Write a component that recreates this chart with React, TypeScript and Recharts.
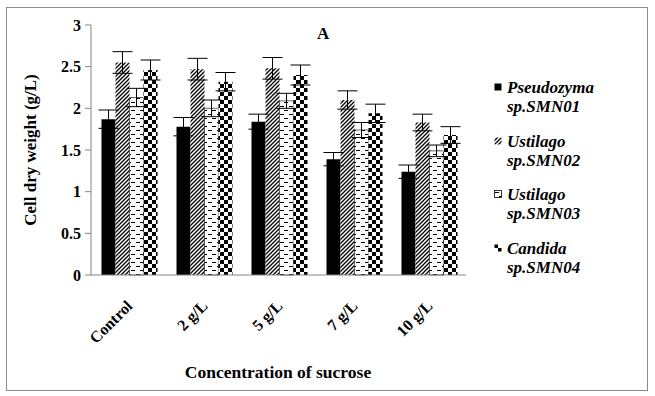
import React from "react";
import { BarChart, Bar, XAxis, YAxis, ErrorBar, Label } from "recharts";

const categories = ["Control", "2 g/L", "5 g/L", "7 g/L", "10 g/L"];
const smn01 = [1.87, 1.78, 1.84, 1.39, 1.24];
const smn01Err = [0.11, 0.11, 0.09, 0.08, 0.08];
const smn02 = [2.55, 2.47, 2.48, 2.1, 1.83];
const smn02Err = [0.13, 0.13, 0.13, 0.11, 0.1];
const smn03 = [2.13, 2.0, 2.09, 1.74, 1.49];
const smn03Err = [0.11, 0.1, 0.09, 0.09, 0.07];
const smn04 = [2.46, 2.32, 2.4, 1.94, 1.68];
const smn04Err = [0.12, 0.11, 0.12, 0.11, 0.1];
const yTicks = [0, 0.5, 1, 1.5, 2, 2.5, 3];

const series = [
  { key: "a", err: "aErr", genus: "Pseudozyma", strain: "sp.SMN01", fill: "#000" },
  { key: "b", err: "bErr", genus: "Ustilago", strain: "sp.SMN02", fill: "url(#hatch)" },
  { key: "c", err: "cErr", genus: "Ustilago", strain: "sp.SMN03", fill: "url(#dash)" },
  { key: "d", err: "dErr", genus: "Candida", strain: "sp.SMN04", fill: "url(#checker)" },
];

const data = categories.map((name, i) => ({
  name,
  a: smn01[i], aErr: smn01Err[i],
  b: smn02[i], bErr: smn02Err[i],
  c: smn03[i], cErr: smn03Err[i],
  d: smn04[i], dErr: smn04Err[i],
}));

const FONT = "'Liberation Serif', 'Times New Roman', serif";

const XTick = (props: any) => {
  const { x, y, payload } = props;
  const px = x + 5;
  const py = y + 24;
  return (
    <text
      x={px}
      y={py}
      transform={`rotate(-45 ${px} ${py})`}
      textAnchor="end"
      fontFamily={FONT}
      fontWeight="bold"
      fontSize={16}
      fill="#000"
    >
      {payload.value}
    </text>
  );
};

// legend sits beside the plot, outside the chart layout
const LegendBox = () => (
  <div style={{ fontFamily: FONT, fontWeight: "bold", fontStyle: "italic", fontSize: 17, color: "#000" }}>
    {series.map((s) => (
      <div key={s.strain} style={{ height: 53.5, position: "relative" }}>
        <svg width={8} height={8} style={{ position: "absolute", left: 0, top: 5 }}>
          <rect x={0.5} y={0.5} width={7} height={7} fill={s.fill} stroke={s.key === "c" ? "#000" : "none"} strokeWidth={0.8} />
        </svg>
        <div style={{ position: "absolute", left: 13, top: 0, lineHeight: "19px", whiteSpace: "nowrap" }}>
          {s.genus}
          <br />
          {s.strain}
        </div>
      </div>
    ))}
  </div>
);

export default function App() {
  return (
    <div style={{ position: "absolute", left: 0, top: 0, width: 655, height: 396, background: "#fff" }}>
      <svg width={0} height={0} style={{ position: "absolute" }}>
        <defs>
          <pattern id="hatch" width={4} height={4} patternUnits="userSpaceOnUse">
            <rect width={4} height={4} fill="#fff" />
            <path d="M-1,1 l2,-2 M0,4 l4,-4 M3,5 l2,-2" stroke="#000" strokeWidth={1.3} />
          </pattern>
          <pattern id="dash" width={9} height={8} patternUnits="userSpaceOnUse">
            <rect width={9} height={8} fill="#fff" />
            <path d="M1,2.5 h4 M5,6.5 h4" stroke="#000" strokeWidth={1} />
          </pattern>
          <pattern id="checker" width={8} height={8} patternUnits="userSpaceOnUse">
            <rect width={8} height={8} fill="#fff" />
            <rect x={0} y={0} width={4} height={4} fill="#000" />
            <rect x={4} y={4} width={4} height={4} fill="#000" />
          </pattern>
        </defs>
      </svg>
      <div
        style={{
          position: "absolute",
          left: 6,
          top: 7,
          width: 640,
          height: 382,
          border: "1px solid #8c8c8c",
        }}
      />
      <div
        style={{
          position: "absolute",
          left: 317,
          top: 24,
          fontFamily: FONT,
          fontWeight: "bold",
          fontSize: 17,
          lineHeight: "20px",
          color: "#000",
        }}
      >
        A
      </div>
      <div style={{ position: "absolute", left: 0, top: 0 }}>
        <BarChart
          width={655}
          height={396}
          data={data}
          margin={{ top: 25, right: 189, bottom: 21, left: 46 }}
          barCategoryGap="14%"
          barGap={0}
        >
          <XAxis
            dataKey="name"
            height={100}
            tick={<XTick />}
            tickLine={false}
            axisLine={{ stroke: "#868686" }}
            interval={0}
          >
            <Label
              content={() => (
                <text x={278} y={378} textAnchor="middle" fontFamily={FONT} fontWeight="bold" fontSize={17.5} fill="#000">
                  Concentration of sucrose
                </text>
              )}
            />
          </XAxis>
          <YAxis
            width={45}
            domain={[0, 3]}
            ticks={yTicks}
            interval={0}
            tickSize={6}
            tickMargin={4}
            tickLine={{ stroke: "#868686" }}
            axisLine={{ stroke: "#868686" }}
            tick={{ fontFamily: FONT, fontWeight: "bold", fontSize: 16, fill: "#000" }}
          >
            <Label
              content={() => (
                <text
                  x={36}
                  y={150}
                  transform="rotate(-90 36 150)"
                  textAnchor="middle"
                  fontFamily={FONT}
                  fontWeight="bold"
                  fontSize={17}
                  fill="#000"
                >
                  Cell dry weight (g/L)
                </text>
              )}
            />
          </YAxis>
          {series.map((s) => (
            <Bar
              key={s.key}
              dataKey={s.key}
              fill={s.fill}
              stroke={s.key === "c" ? "#000" : "none"}
              strokeWidth={0.6}
              isAnimationActive={false}
            >
              <ErrorBar dataKey={s.err} width={10} stroke="#000" strokeWidth={1} />
            </Bar>
          ))}
        </BarChart>
      </div>
      <div style={{ position: "absolute", left: 494, top: 78, width: 150 }}>
        <LegendBox />
      </div>
    </div>
  );
}
